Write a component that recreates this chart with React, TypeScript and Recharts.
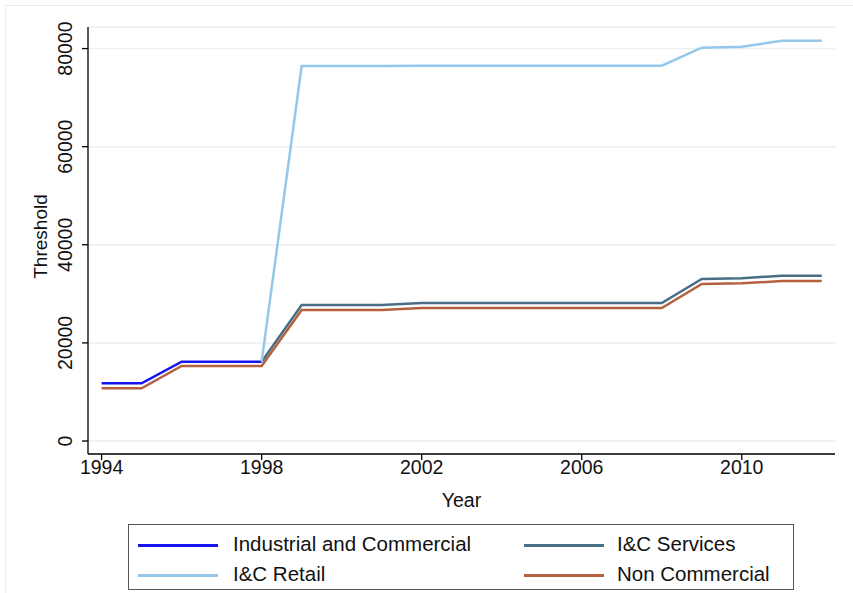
import React from "react";
import { CartesianGrid, Label, Line, LineChart, XAxis, YAxis } from "recharts";

const years = [1994, 1995, 1996, 1997, 1998, 1999, 2000, 2001, 2002, 2003, 2004, 2005, 2006, 2007, 2008, 2009, 2010, 2011, 2012];

const industrial = [11760, 11760, 16170, 16170, 16170, null, null, null, null, null, null, null, null, null, null, null, null, null, null];
const services = [null, null, null, null, 16170, 27730, 27730, 27730, 28130, 28130, 28130, 28130, 28130, 28130, 28130, 33030, 33170, 33700, 33700];
const retail = [null, null, null, null, 16170, 76450, 76450, 76450, 76500, 76500, 76500, 76500, 76500, 76500, 76500, 80180, 80380, 81600, 81600];
const nonCommercial = [10740, 10740, 15290, 15290, 15290, 26710, 26710, 26710, 27110, 27110, 27110, 27110, 27110, 27110, 27110, 32010, 32150, 32620, 32620];

const xTicks = [1994, 1998, 2002, 2006, 2010];
const yTicks = [0, 20000, 40000, 60000, 80000];

const series = [
  { key: "industrial", name: "Industrial and Commercial", color: "#1414f5" },
  { key: "services", name: "I&C Services", color: "#4a6e85" },
  { key: "retail", name: "I&C Retail", color: "#95c7ea" },
  { key: "nonCommercial", name: "Non Commercial", color: "#b5603f" },
];

const data = years.map((year, i) => ({
  year,
  industrial: industrial[i],
  services: services[i],
  retail: retail[i],
  nonCommercial: nonCommercial[i],
}));

const FONT = "'Liberation Sans', Arial, Helvetica, sans-serif";

function XTick({ x, y, payload }: any) {
  return (
    <text x={x} y={y + 14} textAnchor="middle" fontSize={19.5} fontFamily={FONT} fill="#111">
      {payload.value}
    </text>
  );
}

function YTick({ x, y, payload }: any) {
  return (
    <text x={x} y={y} transform={`rotate(-90, ${x}, ${y})`} textAnchor="middle" fontSize={19.5} fontFamily={FONT} fill="#111">
      {payload.value}
    </text>
  );
}

function LegendItem({ color, name, lineX, textX, y }: { color: string; name: string; lineX: number; textX: number; y: number }) {
  return (
    <>
      <div style={{ position: "absolute", left: lineX, top: y - 1, width: 80, height: 2.5, background: color }} />
      <div style={{ position: "absolute", left: textX, top: y - 13, fontSize: 20.5, fontFamily: FONT, color: "#111", lineHeight: "24px", whiteSpace: "nowrap" }}>
        {name}
      </div>
    </>
  );
}

export default function App() {
  return (
    <div style={{ position: "absolute", left: 0, top: 0, width: 853, height: 593, background: "#fff" }}>
      <div style={{ position: "absolute", left: 5, top: 5, width: 848, height: 588, borderLeft: "1px solid #e6ecef", borderTop: "1px solid #e6ecef" }} />
      <LineChart width={853} height={593} data={data} margin={{ top: 27, right: 18, left: 0, bottom: 89 }}>
        <CartesianGrid vertical={false} stroke="#e9eff2" strokeWidth={1.5} />
        <XAxis
          dataKey="year"
          type="number"
          domain={[1993.66, 2012.33]}
          ticks={xTicks}
          allowDataOverflow
          height={50}
          tickSize={6}
          tickMargin={0}
          stroke="#000"
          strokeWidth={1.3}
          tick={<XTick />}
        >
          <Label
            content={({ viewBox }: any) => (
              <text x={viewBox.x + viewBox.width / 2} y={viewBox.y + 53} textAnchor="middle" fontSize={19.5} fontFamily={FONT} fill="#111">
                Year
              </text>
            )}
          />
        </XAxis>
        <YAxis
          type="number"
          domain={[-2650, 84400]}
          ticks={yTicks}
          allowDataOverflow
          width={88}
          tickSize={6}
          tickMargin={10}
          stroke="#000"
          strokeWidth={1.3}
          tick={<YTick />}
        >
          <Label
            content={({ viewBox }: any) => {
              const cx = viewBox.x + 47;
              const cy = viewBox.y + viewBox.height / 2 - 4;
              return (
                <text x={cx} y={cy} transform={`rotate(-90, ${cx}, ${cy})`} textAnchor="middle" fontSize={19} fontFamily={FONT} fill="#111">
                  Threshold
                </text>
              );
            }}
          />
        </YAxis>
        {series.map((s) => (
          <Line
            key={s.key}
            dataKey={s.key}
            name={s.name}
            stroke={s.color}
            strokeWidth={2.5}
            dot={false}
            activeDot={false}
            connectNulls={false}
            isAnimationActive={false}
          />
        ))}
      </LineChart>
      <div style={{ position: "absolute", left: 128, top: 524, width: 666, height: 66, border: "1px solid #555", boxSizing: "border-box" }} />
      <LegendItem color={series[0].color} name={series[0].name} lineX={138} textX={233} y={545} />
      <LegendItem color={series[1].color} name={series[1].name} lineX={524} textX={617} y={545} />
      <LegendItem color={series[2].color} name={series[2].name} lineX={138} textX={233} y={575} />
      <LegendItem color={series[3].color} name={series[3].name} lineX={524} textX={617} y={575} />
    </div>
  );
}
